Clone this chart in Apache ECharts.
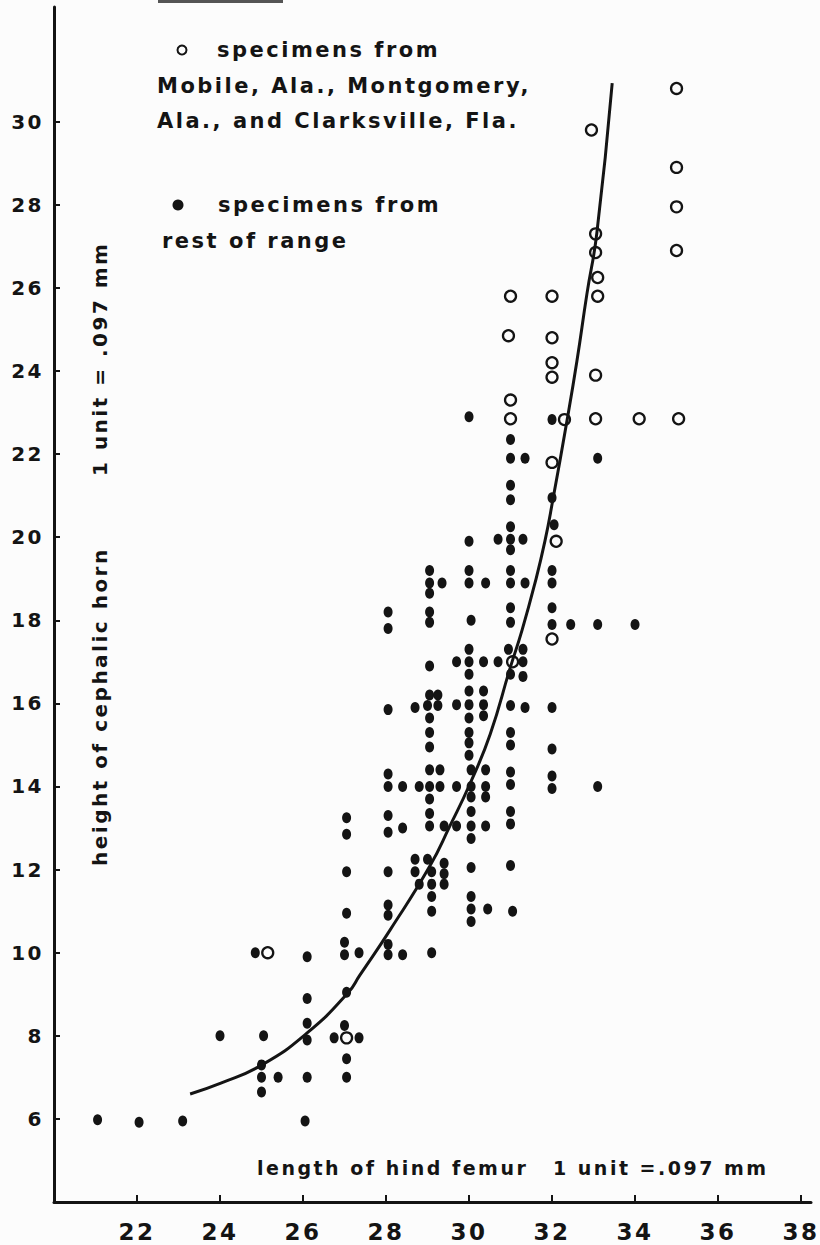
<!DOCTYPE html>
<html>
<head>
<meta charset="utf-8">
<script src="https://cdn.jsdelivr.net/npm/echarts@6/dist/echarts.min.js"></script>
<style>
  html, body { margin: 0; padding: 0; background: #fcfcfc; }
  #chart { width: 820px; height: 1245px; }
  #chart text { letter-spacing: 2.5px; }
</style>
</head>
<body>
<div id="chart"></div>
<script>
// Hind femur length (x) vs. cephalic horn height (y), both in units of .097 mm.
const xTicks = [22, 24, 26, 28, 30, 32, 34, 36, 38];
const yTicks = [6, 8, 10, 12, 14, 16, 18, 20, 22, 24, 26, 28, 30];

// Specimens from the rest of the range (solid dots), column by column.
const solidX = [
  21.05, 22.05, 23.1, 24.0,
  24.85, 25.05, 25.0, 25.0, 25.4, 25.0,
  26.1, 26.1, 26.1, 26.1, 26.1, 26.05,
  27.05, 27.05, 27.05, 27.05, 27.0, 27.0, 27.35, 27.05, 27.0, 26.75, 27.35, 27.05, 27.05,
  28.05, 28.05, 28.05, 28.05, 28.05, 28.4, 28.05, 28.05, 28.4, 28.05, 28.05, 28.05, 28.05, 28.05, 28.4,
  29.05, 29.05, 29.35, 29.05, 29.05, 29.05, 29.05, 29.05, 29.25, 28.7, 29.0, 29.25, 29.05, 29.05, 29.05,
  29.05, 29.3, 28.8, 29.05, 29.3, 29.05, 29.05, 29.05, 29.4, 28.7, 28.7, 28.8, 29.0, 29.1, 29.1,
  29.4, 29.4, 29.4, 29.1, 29.1, 29.1,
  30.0, 30.0, 30.0, 30.0, 30.4, 30.05, 30.0, 29.7, 30.0, 30.35, 30.0, 30.0, 30.35, 29.7, 30.0, 30.35,
  30.0, 30.35, 30.0, 30.0, 30.0, 30.05, 30.4, 29.7, 30.05, 30.4, 30.05, 30.4, 30.05, 29.7, 30.05, 30.4,
  30.05, 30.05, 30.05, 30.05, 30.45, 30.05,
  31.0, 31.0, 31.35, 31.0, 31.0, 31.0, 30.7, 31.0, 31.3, 31.0, 31.0, 31.0, 31.35, 31.0, 31.0, 30.95,
  31.3, 30.7, 31.3, 31.0, 31.3, 31.0, 31.35, 31.0, 31.0, 31.0, 31.0, 31.0, 31.0, 31.0, 31.05,
  32.0, 32.0, 32.05, 32.0, 32.0, 32.0, 32.0, 32.45, 32.0, 32.0, 32.0, 32.0,
  33.1, 33.1, 33.1, 34.0
];
const solidY = [
  5.98, 5.92, 5.95, 8.0,
  10.0, 8.0, 7.3, 7.0, 7.0, 6.65,
  9.9, 8.9, 8.3, 7.9, 7.0, 5.95,
  13.25, 12.85, 11.95, 10.95, 10.25, 9.95, 10.0, 9.05, 8.25, 7.95, 7.95, 7.45, 7.0,
  18.2, 17.8, 15.85, 14.3, 14.0, 14.0, 13.3, 12.9, 13.0, 11.95, 11.15, 10.9, 10.2, 9.95, 9.95,
  19.2, 18.9, 18.9, 18.65, 18.2, 17.95, 16.9, 16.2, 16.2, 15.9, 15.95, 15.95, 15.65, 15.3, 14.95,
  14.4, 14.4, 14.0, 14.0, 14.0, 13.7, 13.35, 13.05, 13.05, 12.25, 11.95, 11.65, 12.25, 11.95, 11.65,
  12.15, 11.9, 11.65, 11.35, 11.0, 10.0,
  22.9, 19.9, 19.2, 18.9, 18.9, 18.0, 17.3, 17.0, 17.0, 17.0, 16.7, 16.3, 16.3, 15.97, 15.97, 15.97,
  15.65, 15.7, 15.3, 15.05, 14.75, 14.4, 14.4, 14.0, 14.0, 14.0, 13.75, 13.75, 13.4, 13.05, 13.05, 13.05,
  12.75, 12.05, 11.35, 11.05, 11.05, 10.75,
  22.35, 21.9, 21.9, 21.25, 20.9, 20.25, 19.95, 19.95, 19.95, 19.7, 19.2, 18.9, 18.9, 18.3, 17.95, 17.3,
  17.3, 17.0, 17.0, 16.7, 16.65, 15.95, 15.9, 15.3, 15.0, 14.35, 14.05, 13.4, 13.1, 12.1, 11.0,
  22.83, 20.95, 20.3, 19.2, 18.9, 18.3, 17.9, 17.9, 15.9, 14.9, 14.25, 13.95,
  21.9, 17.9, 14.0, 17.9
];

// Specimens from Mobile, Montgomery and Clarksville (open circles).
const openX = [
  25.15, 27.05, 31.05,
  31.0, 30.95, 31.0, 31.0,
  32.0, 32.0, 32.0, 32.0, 32.3, 32.0, 32.1, 32.0,
  32.95, 33.05, 33.05, 33.1, 33.1, 33.05, 33.05,
  34.1, 35.0, 35.0, 35.0, 35.0, 35.05
];
const openY = [
  10.0, 7.95, 17.0,
  25.8, 24.85, 23.3, 22.85,
  25.8, 24.8, 24.2, 23.85, 22.83, 21.8, 19.9, 17.55,
  29.8, 27.3, 26.85, 26.25, 25.8, 23.9, 22.85,
  22.85, 30.8, 28.9, 27.95, 26.9, 22.85
];

// Fitted growth curve, traced point by point.
const curveX = [23.28, 24.02, 25.01, 26.10, 27.08, 27.37, 28.10, 29.06, 29.54, 30.02, 30.51,
                30.99, 31.28, 31.59, 31.83, 32.02, 32.36, 32.60, 32.84, 33.08, 33.45];
const curveY = [6.60, 6.86, 7.30, 8.07, 9.03, 9.46, 10.55, 12.09, 13.05, 14.06, 15.26,
                16.85, 17.77, 18.90, 19.91, 20.90, 22.80, 24.24, 25.85, 27.32, 30.93];

const zip = (xs, ys) => xs.map((x, i) => [x, ys[i]]);

const INK = '#141414';
const FONT = '"DejaVu Sans", sans-serif';
const textStyle = (text, size) => ({
  text: text,
  fontFamily: FONT,
  fontWeight: 'bold',
  fontSize: size || 20,
  fill: INK,
  align: 'left',
  verticalAlign: 'middle'
});

const chart = echarts.init(document.getElementById('chart'), null, { renderer: 'svg' });

chart.setOption({
  backgroundColor: '#fcfcfc',
  animation: false,
  grid: { left: 54, right: 9, top: 7, bottom: 43, containLabel: false, outerBoundsMode: 'none' },
  xAxis: {
    type: 'value',
    min: 20,
    max: 38.24,
    splitLine: { show: false },
    axisLine: { onZero: false, lineStyle: { color: INK, width: 3 } },
    axisTick: { show: true, inside: true, length: 7, customValues: xTicks, lineStyle: { color: INK, width: 2 } },
    axisLabel: {
      customValues: xTicks,
      margin: 18,
      color: INK,
      fontFamily: FONT,
      fontWeight: 'bold',
      fontSize: 23
    }
  },
  yAxis: {
    type: 'value',
    min: 4,
    max: 32.76,
    splitLine: { show: false },
    axisLine: { onZero: false, lineStyle: { color: INK, width: 3 } },
    axisTick: { show: true, inside: true, length: 6, customValues: yTicks, lineStyle: { color: INK, width: 2 } },
    axisLabel: {
      customValues: yTicks,
      margin: 10,
      color: INK,
      fontFamily: FONT,
      fontWeight: 'bold',
      fontSize: 20
    }
  },
  series: [
    {
      name: 'fit',
      type: 'line',
      data: zip(curveX, curveY),
      smooth: 0.5,
      showSymbol: false,
      lineStyle: { color: INK, width: 3 },
      z: 2,
      silent: true
    },
    {
      name: 'rest of range',
      type: 'scatter',
      data: zip(solidX, solidY),
      symbol: 'circle',
      symbolSize: [9, 11],
      itemStyle: { color: INK, opacity: 1 },
      z: 3,
      silent: true
    },
    {
      name: 'Mobile, Montgomery, Clarksville',
      type: 'scatter',
      data: zip(openX, openY),
      symbol: 'circle',
      symbolSize: 11,
      itemStyle: { color: 'rgba(255,255,255,0)', borderColor: INK, borderWidth: 2.3, opacity: 1 },
      z: 4,
      silent: true
    }
  ],
  graphic: [
    // legend
    { type: 'circle', shape: { cx: 182, cy: 50, r: 4.5 }, style: { fill: 'none', stroke: INK, lineWidth: 2 } },
    { type: 'text', x: 217, y: 50, style: textStyle('specimens from', 21) },
    { type: 'text', x: 157, y: 86, style: textStyle('Mobile, Ala., Montgomery,', 21) },
    { type: 'text', x: 157, y: 121, style: textStyle('Ala., and Clarksville, Fla.', 21) },
    { type: 'circle', shape: { cx: 178, cy: 205, r: 5.5 }, style: { fill: INK } },
    { type: 'text', x: 218, y: 205, style: textStyle('specimens from', 21) },
    { type: 'text', x: 162, y: 241, style: textStyle('rest of range', 21) },
    // axis titles
    { type: 'text', x: 257, y: 1168, style: textStyle('length of hind femur', 19) },
    { type: 'text', x: 553, y: 1168, style: textStyle('1 unit =.097 mm', 19) },
    { type: 'text', x: 100, y: 866, rotation: Math.PI / 2, style: textStyle('height of cephalic horn') },
    { type: 'text', x: 100, y: 476, rotation: Math.PI / 2, style: textStyle('1 unit = .097 mm') },
    // rule at the top edge of the page
    { type: 'rect', shape: { x: 158, y: 0, width: 125, height: 3 }, style: { fill: '#555' } }
  ]
});
</script>
</body>
</html>
